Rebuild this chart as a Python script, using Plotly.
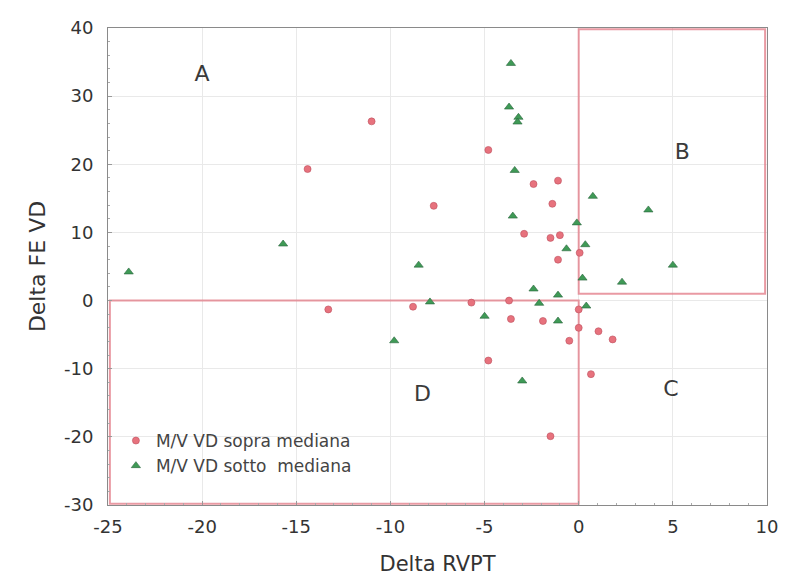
import plotly.graph_objects as go

# M/V VD sopra mediana (red circles)
red_x = [-11.0, -14.4, -13.3, -7.7, -4.8, -2.4, -1.1, -1.4, -2.9, -1.5, -1.0, -1.1, 0.05,
         -8.8, -5.7, -3.7, -3.6, -1.9, 0.0, -0.5, 1.05, 1.8, 0.65, -4.8, -1.5, 0.0]
red_y = [26.3, 19.3, -1.3, 13.9, 22.1, 17.1, 17.6, 14.2, 9.8, 9.2, 9.6, 6.0, 7.0,
         -0.9, -0.3, 0.0, -2.7, -3.0, -4.0, -5.9, -4.5, -5.7, -10.8, -8.8, -19.9, -1.3]

# M/V VD sotto mediana (green triangles)
green_x = [-23.9, -15.7, -9.8, -8.5, -7.9, -3.6, -3.7, -3.2, -3.25, -3.4, -3.5, 0.75, 3.7,
           5.0, 2.3, -0.1, 0.35, -0.65, 0.2, -2.4, -1.1, 0.4, -5.0, -1.1, -3.0, -2.1]
green_y = [4.2, 8.3, -5.9, 5.2, -0.2, 34.8, 28.4, 26.9, 26.2, 19.1, 12.4, 15.3, 13.3,
           5.2, 2.7, 11.4, 8.2, 7.6, 3.3, 1.7, 0.8, -0.8, -2.3, -3.0, -11.8, -0.4]

quad_labels = ["A", "B", "C", "D"]
quad_x = [-20, 5.5, 4.9, -8.3]
quad_y = [33, 21.6, -13.2, -14]

x_ticks = [-25, -20, -15, -10, -5, 0, 5, 10]
y_ticks = [-30, -20, -10, 0, 10, 20, 30, 40]

FONT = "DejaVu Sans, Liberation Sans, Arial"

fig = go.Figure()
fig.add_trace(go.Scatter(
    x=red_x, y=red_y, mode="markers", name="M/V VD sopra mediana",
    marker=dict(symbol="circle", size=7, color="#e7727d",
                line=dict(color="rgba(190,80,95,0.6)", width=1))))
fig.add_trace(go.Scatter(
    x=green_x, y=green_y, mode="markers", name="M/V VD sotto  mediana",
    marker=dict(symbol="triangle-up", size=8, color="#3f9a56",
                line=dict(color="rgba(40,100,60,0.6)", width=1))))

fig.add_trace(go.Scatter(
    x=quad_x, y=quad_y, mode="text", text=quad_labels, showlegend=False,
    textfont=dict(family=FONT, size=22, color="#3a3a3a"),
    hoverinfo="skip"))

rect_line = dict(color="rgba(226,120,132,0.75)", width=2)
fig.add_shape(type="rect", x0=0, x1=9.9, y0=1, y1=39.8, line=rect_line, layer="between")
fig.add_shape(type="rect", x0=-24.9, x1=0, y0=-29.8, y1=0, line=rect_line, layer="between")

axis_common = dict(
    showgrid=True, gridcolor="#e9e9e9", gridwidth=1,
    showline=True, linecolor="#8a8a8a", linewidth=1, mirror=True,
    ticks="inside", ticklen=4, tickcolor="#999999",
    minor=dict(ticks="inside", ticklen=2, tickcolor="#aaaaaa", showgrid=False),
    zeroline=False, automargin=False,
    tickfont=dict(family=FONT, size=18, color="#333333"),
)

fig.update_layout(
    width=788, height=580,
    margin=dict(l=108, r=21, t=28, b=75),
    plot_bgcolor="white", paper_bgcolor="white",
    showlegend=True,
    legend=dict(x=0.012, y=0.108, xanchor="left", yanchor="middle",
                bgcolor="rgba(0,0,0,0)", borderwidth=0,
                font=dict(family=FONT, size=17, color="#444444"),
                tracegroupgap=0),
    xaxis=dict(range=[-25, 10], tickvals=x_ticks,
               ticktext=[str(v) for v in x_ticks], ticklabelstandoff=5,
               title=dict(text="Delta RVPT", standoff=20,
                          font=dict(family=FONT, size=21, color="#333333")),
               **axis_common),
    yaxis=dict(range=[-30, 40], tickvals=y_ticks,
               ticktext=[str(v) for v in y_ticks], ticklabelstandoff=10,
               title=dict(text="Delta FE VD", standoff=12,
                          font=dict(family=FONT, size=22, color="#333333")),
               **axis_common),
)
fig.update_xaxes(minor=dict(dtick=1))
fig.update_yaxes(minor=dict(dtick=2))

fig.write_html("out.html")
